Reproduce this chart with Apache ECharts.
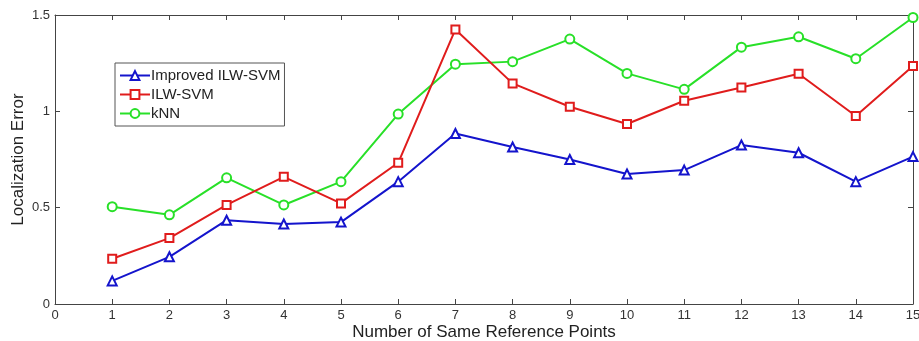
<!DOCTYPE html>
<html><head><meta charset="utf-8">
<script src="https://cdn.jsdelivr.net/npm/echarts@6/dist/echarts.min.js"></script>
<style>html,body{margin:0;padding:0;background:#fff}#c{width:919px;height:341px}</style>
</head><body><div id="c"></div>
<script>
const xValues = [1,2,3,4,5,6,7,8,9,10,11,12,13,14,15];
const improvedILW = [0.12,0.245,0.435,0.415,0.425,0.635,0.885,0.815,0.75,0.675,0.695,0.825,0.785,0.635,0.765];
const ilwSVM = [0.235,0.342,0.514,0.66,0.522,0.733,1.425,1.145,1.024,0.934,1.055,1.124,1.195,0.976,1.235];
const kNN = [0.505,0.463,0.655,0.514,0.635,0.986,1.245,1.258,1.375,1.197,1.114,1.333,1.387,1.273,1.487];
const seriesNames = ['Improved ILW-SVM','ILW-SVM','kNN'];
const colors = ['#1414cc','#e01c1c','#28e028'];
const symbols = ['emptyTriangle','emptyRect','emptyCircle'];
const dataSets = [improvedILW, ilwSVM, kNN];

const chart = echarts.init(document.getElementById('c'));
const tickStyle = {show:true, inside:true, length:5, lineStyle:{color:'#444', width:1}};
const labelStyle = {color:'#333', fontFamily:'Liberation Sans, Arial, sans-serif', fontSize:13};
chart.setOption({
  animation:false,
  grid:{left:55, right:6, top:15, bottom:37, containLabel:false, outerBoundsMode:'none'},
  legend:{
    orient:'vertical', left:115, top:63, data:seriesNames,
    backgroundColor:'#fff', borderColor:'#555', borderWidth:1,
    padding:[5,4,5,4], itemGap:4, itemWidth:30, itemHeight:11,
    textStyle:{color:'#222', fontFamily:'Liberation Sans, Arial, sans-serif', fontSize:15, padding:[0,0,0,-4]}
  },
  xAxis:[{
    type:'value', min:0, max:15, interval:1, position:'bottom',
    name:'Number of Same Reference Points', nameLocation:'middle', nameGap:20, nameMoveOverlap:false,
    nameTextStyle:{color:'#222', fontFamily:'Liberation Sans, Arial, sans-serif', fontSize:17},
    axisLine:{show:true, onZero:false, lineStyle:{color:'#444', width:1}},
    axisTick:tickStyle, axisLabel:Object.assign({margin:5}, labelStyle), splitLine:{show:false}
  },{
    type:'value', min:0, max:15, interval:1, position:'top',
    axisLine:{show:true, onZero:false, lineStyle:{color:'#444', width:1}},
    axisTick:tickStyle, axisLabel:{show:false}, splitLine:{show:false}
  }],
  yAxis:[{
    type:'value', min:0, max:1.5, interval:0.5, position:'left',
    name:'Localization Error', nameLocation:'middle', nameGap:28, nameMoveOverlap:false,
    nameTextStyle:{color:'#222', fontFamily:'Liberation Sans, Arial, sans-serif', fontSize:17},
    axisLine:{show:true, onZero:false, lineStyle:{color:'#444', width:1}},
    axisTick:tickStyle, axisLabel:Object.assign({margin:5}, labelStyle), splitLine:{show:false}
  },{
    type:'value', min:0, max:1.5, interval:0.5, position:'right',
    axisLine:{show:true, onZero:false, lineStyle:{color:'#444', width:1}},
    axisTick:tickStyle, axisLabel:{show:false}, splitLine:{show:false}
  }],
  series: seriesNames.map((n,i)=>({
    name:n, type:'line', xAxisIndex:0, yAxisIndex:0,
    data: xValues.map((x,j)=>[x, dataSets[i][j]]),
    symbol:symbols[i], symbolSize: i===1 ? 8 : 9,
    lineStyle:{color:colors[i], width:2},
    itemStyle:{color:colors[i], borderColor:colors[i], borderWidth:1.5},
    z: 3 - i
  }))
});
</script></body></html>
